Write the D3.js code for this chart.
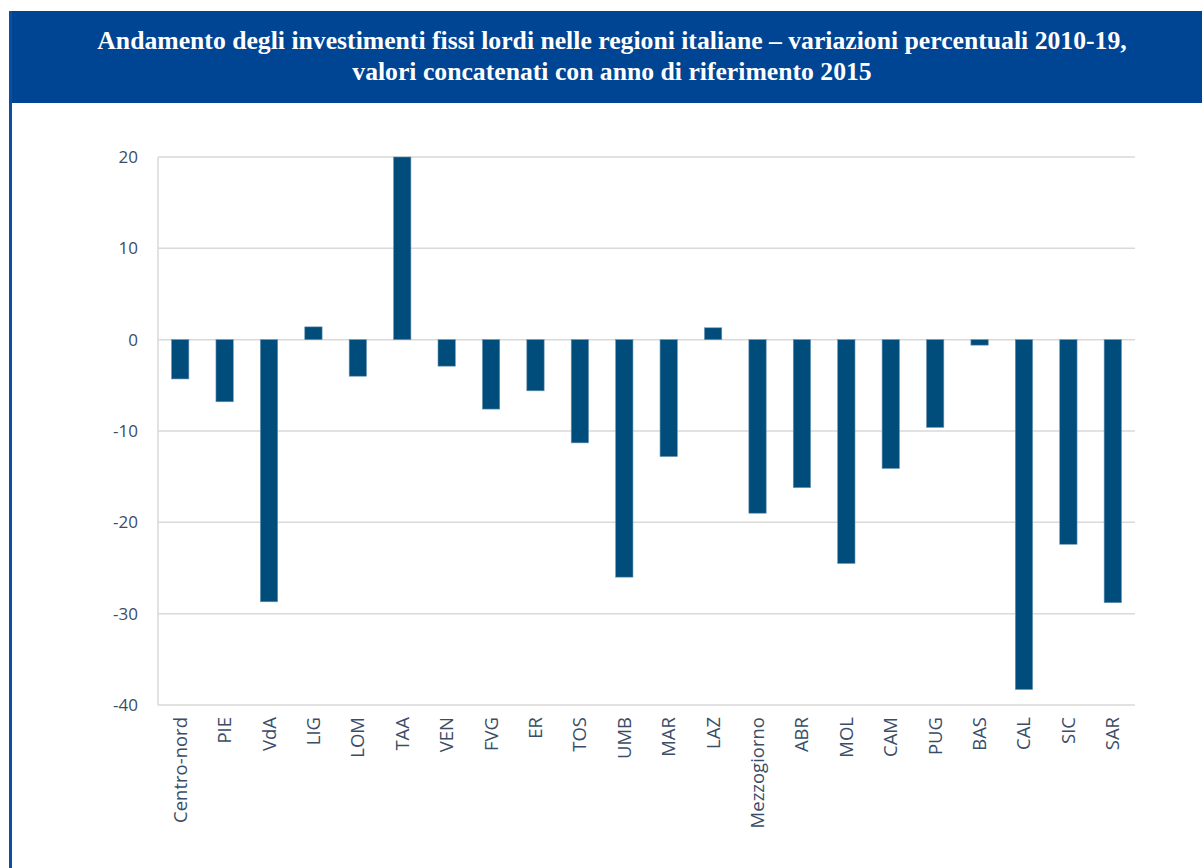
<!DOCTYPE html>
<html>
<head>
<meta charset="utf-8">
<script src="https://cdn.jsdelivr.net/npm/d3@7/dist/d3.min.js"></script>
<style>
  body { margin: 0; background: #fff; }
  svg { display: block; }
</style>
</head>
<body>
<svg id="chart" width="1202" height="868"></svg>
<script>
// data
var regions = ["Centro-nord", "PIE", "VdA", "LIG", "LOM", "TAA", "VEN", "FVG", "ER", "TOS", "UMB",
               "MAR", "LAZ", "Mezzogiorno", "ABR", "MOL", "CAM", "PUG", "BAS", "CAL", "SIC", "SAR"];
var variazioni = [-4.3, -6.8, -28.7, 1.4, -4.0, 20.0, -2.9, -7.6, -5.6, -11.3, -26.0,
                  -12.8, 1.3, -19.0, -16.2, -24.5, -14.1, -9.6, -0.6, -38.3, -22.4, -28.8];
var yTicks = [20, 10, 0, -10, -20, -30, -40];
var titleLines = ["Andamento degli investimenti fissi lordi nelle regioni italiane \u2013 variazioni percentuali 2010-19,",
                  "valori concatenati con anno di riferimento 2015"];

var svg = d3.select("#chart");

// frame + blue header
svg.append("rect")
  .attr("x", 9).attr("y", 11).attr("width", 1193).attr("height", 92)
  .attr("fill", "#004494");
svg.append("line")
  .attr("x1", 10.5).attr("x2", 10.5).attr("y1", 11).attr("y2", 868)
  .attr("stroke", "#0b4fa3").attr("stroke-width", 3);

svg.selectAll("text.title")
  .data(titleLines)
  .enter().append("text")
  .attr("class", "title")
  .attr("x", 612)
  .attr("y", function(d, i) { return 49 + i * 31; })
  .attr("text-anchor", "middle")
  .attr("font-family", "Liberation Serif, serif")
  .attr("font-weight", "bold")
  .attr("font-size", 25.7)
  .attr("fill", "#fff")
  .text(function(d) { return d; });

var plotLeft = 158, plotRight = 1135, plotTop = 157, plotBottom = 705;

var x = d3.scaleBand()
  .domain(regions)
  .range([plotLeft, plotRight])
  .paddingInner(0.61)
  .paddingOuter(0.305);

var y = d3.scaleLinear()
  .domain([-40, 20])
  .range([plotBottom, plotTop]);

// grid
svg.append("g")
  .selectAll("line")
  .data(yTicks)
  .enter().append("line")
  .attr("x1", plotLeft).attr("x2", plotRight)
  .attr("y1", function(d) { return y(d); })
  .attr("y2", function(d) { return y(d); })
  .attr("stroke", "#d9d9d9").attr("stroke-width", 1.5);

svg.append("line")
  .attr("x1", plotLeft).attr("x2", plotLeft)
  .attr("y1", plotTop).attr("y2", plotBottom)
  .attr("stroke", "#d9d9d9").attr("stroke-width", 1.5);

// y labels (plain hyphen like the original)
var yAxis = svg.append("g")
  .attr("transform", "translate(" + (plotLeft - 20) + ",0)")
  .call(d3.axisLeft(y).tickValues(yTicks).tickSize(0).tickPadding(0)
          .tickFormat(function(d) { return String(d); }));
yAxis.select(".domain").remove();
yAxis.selectAll("text")
  .attr("font-family", "Open Sans, sans-serif")
  .attr("font-size", 17)
  .attr("fill", "#3a4d66");

// bars
svg.append("g")
  .selectAll("rect")
  .data(regions)
  .enter().append("rect")
  .attr("x", function(d) { return x(d); })
  .attr("width", x.bandwidth())
  .attr("y", function(d, i) { return y(Math.max(0, variazioni[i])); })
  .attr("height", function(d, i) { return Math.abs(y(variazioni[i]) - y(0)); })
  .attr("fill", "#004c7b")
  .attr("stroke", "#6a93b3")
  .attr("stroke-width", 0.6);

// category labels
var xAxis = svg.append("g")
  .attr("transform", "translate(0," + (plotBottom + 12) + ")")
  .call(d3.axisBottom(x).tickSize(0).tickPadding(0));
xAxis.select(".domain").remove();
xAxis.selectAll("text")
  .attr("transform", "rotate(-90)")
  .attr("text-anchor", "end")
  .attr("dx", 0)
  .attr("dy", "0.35em")
  .attr("x", 0).attr("y", 0)
  .attr("font-family", "Open Sans, sans-serif")
  .attr("font-size", 18.5)
  .attr("fill", "#3a4d66");
</script>
</body>
</html>
